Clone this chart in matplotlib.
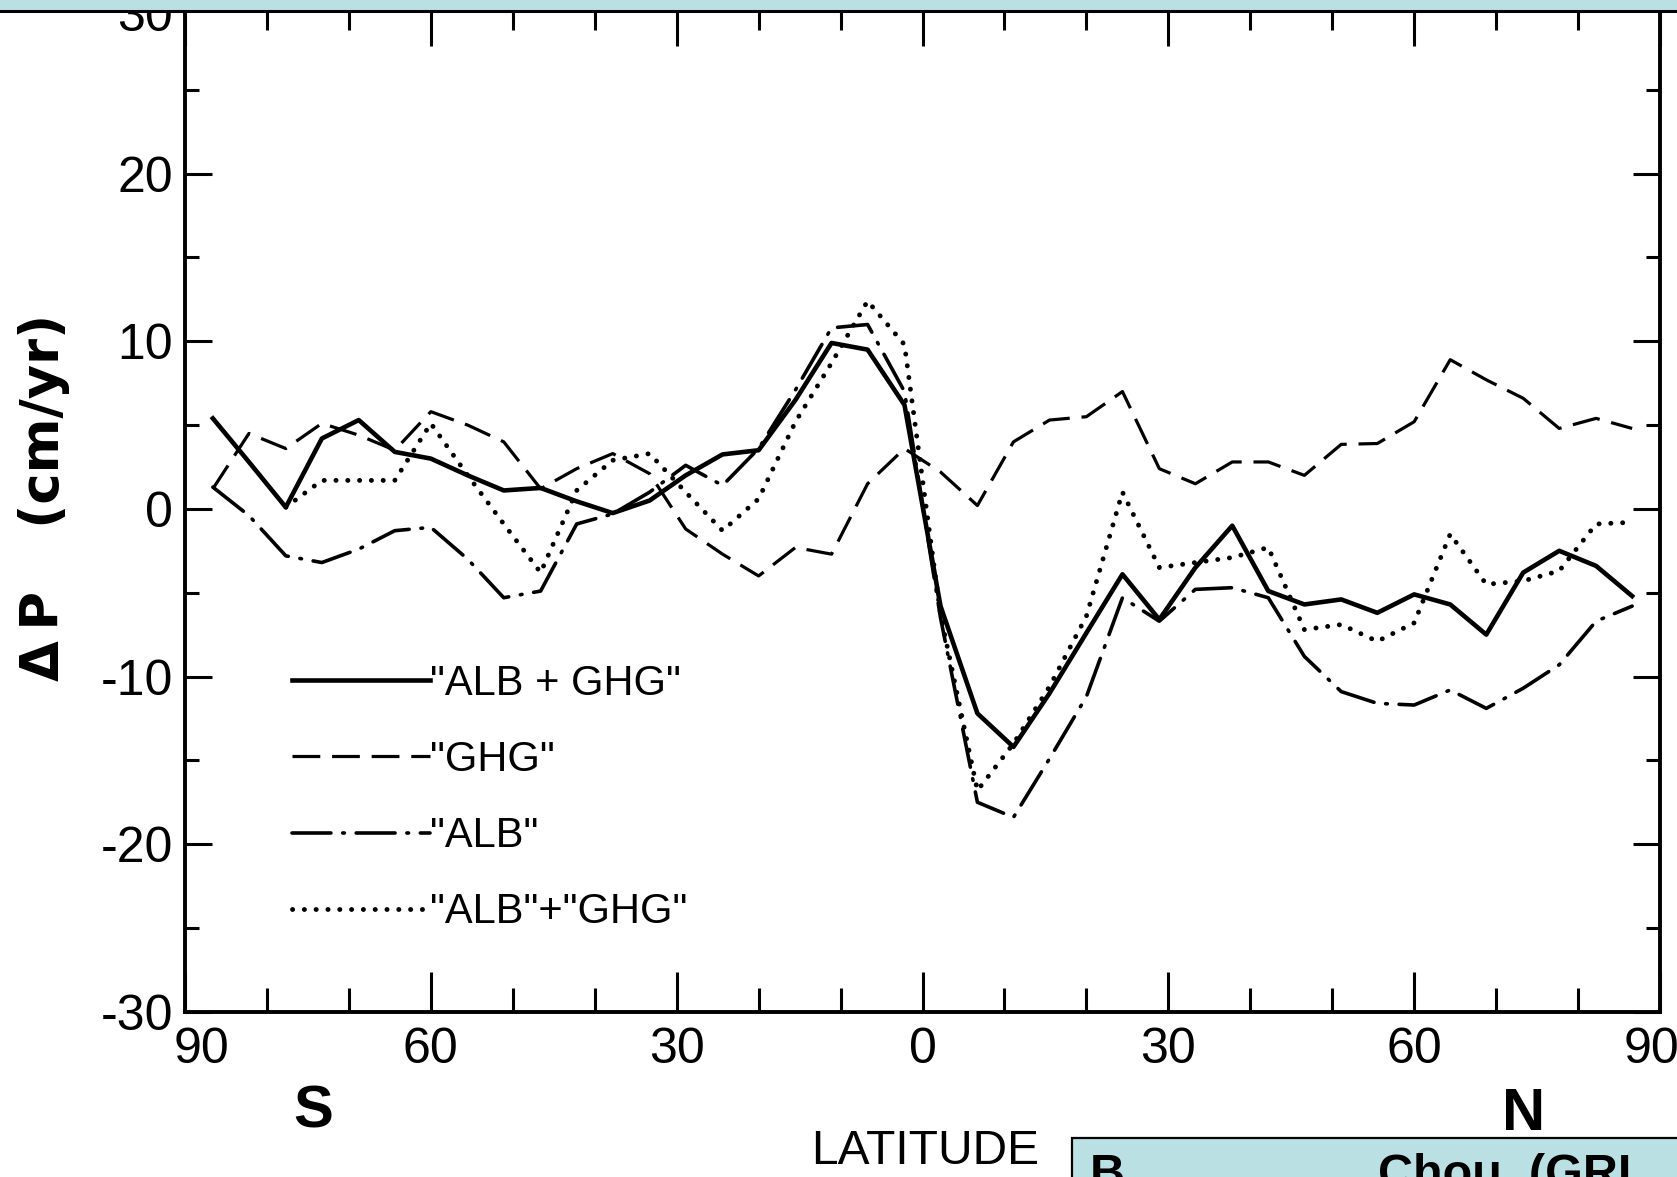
import matplotlib
matplotlib.use("Agg")
import matplotlib.pyplot as plt
import matplotlib.transforms as mtransforms
from matplotlib.patches import Rectangle
from matplotlib.ticker import MultipleLocator, FixedLocator, FixedFormatter

# ---------------- data ----------------
LAT = [-86.6, -82.2, -77.7, -73.3, -68.8, -64.4, -60.0, -55.5, -51.1, -46.6,
       -42.2, -37.8, -33.3, -28.9, -24.4, -20.0, -15.5, -11.1, -6.7, -2.2,
       2.2, 6.7, 11.1, 15.5, 20.0, 24.4, 28.9, 33.3, 37.8, 42.2,
       46.6, 51.1, 55.5, 60.0, 64.4, 68.8, 73.3, 77.7, 82.2, 86.6]

ALB_GHG = [5.4, 2.8, 0.1, 4.2, 5.3, 3.4, 3.0, 2.0, 1.1, 1.25,
           0.45, -0.25, 0.5, 2.0, 3.25, 3.5, 6.5, 9.9, 9.5, 6.2,
           -5.8, -12.2, -14.2, -11.0, -7.4, -3.9, -6.6, -3.5, -1.0, -4.9,
           -5.7, -5.4, -6.2, -5.1, -5.7, -7.5, -3.8, -2.5, -3.4, -5.2]

GHG = [1.2, 4.5, 3.6, 5.1, 4.4, 3.5, 5.8, 5.0, 4.0, 1.2,
       2.4, 3.3, 2.1, -1.2, -2.7, -4.0, -2.3, -2.7, 1.5, 3.6,
       2.2, 0.2, 4.0, 5.3, 5.5, 7.0, 2.4, 1.5, 2.8, 2.8,
       2.0, 3.85, 3.9, 5.2, 8.9, 7.7, 6.6, 4.8, 5.4, 4.8]

ALB = [1.3, -0.4, -2.8, -3.2, -2.4, -1.3, -1.1, -3.0, -5.3, -4.9,
       -0.9, -0.3, 1.0, 2.6, 1.4, 3.6, 7.1, 10.8, 11.0, 7.0,
       -6.5, -17.5, -18.4, -14.9, -11.2, -5.3, -6.7, -4.8, -4.7, -5.3,
       -8.8, -10.9, -11.6, -11.7, -10.8, -11.9, -10.7, -9.3, -6.7, -5.8]

LAT_SUM = [-77.7, -73.3, -68.8, -64.4, -60.0, -55.5, -51.1, -46.6,
           -42.2, -37.8, -33.3, -28.9, -24.4, -20.0, -15.5, -11.1, -6.7, -2.2,
           2.2, 6.7, 11.1, 15.5, 20.0, 24.4, 28.9, 33.3, 37.8, 42.2,
           46.6, 51.1, 55.5, 60.0, 64.4, 68.8, 73.3, 77.7, 82.2, 86.6]
ALB_PLUS_GHG = [0.1, 1.7, 1.7, 1.7, 5.1, 2.0, -0.9, -3.8,
                1.1, 2.9, 3.3, 1.0, -1.3, 0.6, 5.2, 8.7, 12.4, 9.8,
                -6.3, -16.8, -14.0, -10.6, -6.4, 1.0, -3.5, -3.2, -2.9, -2.3,
                -7.2, -6.9, -7.9, -6.8, -1.5, -4.5, -4.3, -3.7, -0.9, -0.8]

XTICKS = [-90, -60, -30, 0, 30, 60, 90]
XTICKLABELS = ["90", "60", "30", "0", "30", "60", "90"]
YTICKS = [-30, -20, -10, 0, 10, 20, 30]
YTICKLABELS = ["-30", "-20", "-10", "0", "10", "20", "30"]
LABELS = ['"ALB + GHG"', '"GHG"', '"ALB"', '"ALB"+"GHG"']

# ---------------- style ----------------
plt.rcParams['font.family'] = ['Liberation Sans', 'DejaVu Sans']
plt.rcParams['lines.scale_dashes'] = False

W, H = 1677, 1177
fig = plt.figure(figsize=(W / 100, H / 100), dpi=100)
fig.patch.set_facecolor('white')

ax_left, ax_right = 185, 1660
ax_top, ax_bot = 6, 1011.8
ax = fig.add_axes([ax_left / W, 1 - ax_bot / H, (ax_right - ax_left) / W, (ax_bot - ax_top) / H])

l1, = ax.plot(LAT, ALB_GHG, color='black', lw=3.3, zorder=6)
l2, = ax.plot(LAT, GHG, color='black', lw=2.3, dashes=(20, 8.5), zorder=3)
l3, = ax.plot(LAT, ALB, color='black', lw=2.6, dashes=(28, 8.5, 1.2, 8.5),
              dash_capstyle='round', zorder=4)
l4, = ax.plot(LAT_SUM, ALB_PLUS_GHG, color='black', lw=3.5, dashes=(0.1, 8.4),
              dash_capstyle='round', zorder=5)

ax.set_xlim(-90, 90)
ax.set_ylim(-30, 30)
ax.xaxis.set_major_locator(FixedLocator(XTICKS))
ax.xaxis.set_major_formatter(FixedFormatter(XTICKLABELS))
ax.xaxis.set_minor_locator(MultipleLocator(10))
ax.yaxis.set_major_locator(FixedLocator(YTICKS))
ax.yaxis.set_major_formatter(FixedFormatter(YTICKLABELS))
ax.yaxis.set_minor_locator(MultipleLocator(5))
ax.tick_params(axis='both', which='both', direction='in', top=True, right=True,
               width=2.2, color='black')
ax.tick_params(axis='x', which='major', length=29, pad=11, labelsize=36)
ax.tick_params(axis='x', which='minor', length=17)
ax.tick_params(axis='y', which='major', length=19.5, pad=8.5, labelsize=36)
ax.tick_params(axis='y', which='minor', length=10)
for s in ax.spines.values():
    s.set_linewidth(2.8)

# the end labels "90" sit slightly inside the frame; the top "30" sits a bit lower
fig.canvas.draw()
xlabels = ax.get_xticklabels()
xlabels[0].set_transform(xlabels[0].get_transform() +
                         mtransforms.ScaledTranslation(17 / 100, 0, fig.dpi_scale_trans))
xlabels[-1].set_transform(xlabels[-1].get_transform() +
                          mtransforms.ScaledTranslation(-9 / 100, 0, fig.dpi_scale_trans))
ylabels = ax.get_yticklabels()
ylabels[-1].set_transform(ylabels[-1].get_transform() +
                          mtransforms.ScaledTranslation(0, -7 / 100, fig.dpi_scale_trans))

leg = ax.legend([l1, l2, l3, l4], LABELS, loc='center left',
                bbox_to_anchor=((292 - ax_left) / (ax_right - ax_left),
                                (ax_bot - 798) / (ax_bot - ax_top)),
                frameon=False, fontsize=30, handlelength=3.3, handletextpad=0.0,
                labelspacing=0.87, borderpad=0, borderaxespad=0)

# y-axis label
fig.text(44 / W, 1 - 497 / H, "\u0394\u2009P\u2003\u2009(cm/yr)", rotation=90,
         fontsize=38, fontweight='bold', family=['DejaVu Sans'],
         ha='center', va='center')

# S / N / LATITUDE
fig.text(313 / W, 1 - 1112 / H, 'S', fontsize=43, fontweight='bold', ha='center', va='center')
fig.text(1524 / W, 1 - 1115 / H, 'N', fontsize=43, fontweight='bold', ha='center', va='center')
fig.text(925 / W, 1 - 1152 / H, 'LATITUDE', fontsize=34.5, ha='center', va='center')

# top header bar
top_bar = Rectangle((-0.01, 1 - 10.5 / H), 1.02, 0.05, transform=fig.transFigure,
                    facecolor='#BBE0E3', edgecolor='black', lw=2.2, zorder=20)
fig.patches.append(top_bar)

# bottom-right caption box
box = Rectangle((1072 / W, -0.05), 0.5, 0.05 + (H - 1138) / H, transform=fig.transFigure,
                facecolor='#BBE0E3', edgecolor='black', lw=1.6, zorder=20)
fig.patches.append(box)
fig.text(1090 / W, (H - 1188) / H, 'B', fontsize=35, fontweight='bold',
         family=['Liberation Sans', 'DejaVu Sans'], ha='left', va='baseline', zorder=21)
fig.text(1378 / W, (H - 1188) / H, 'Chou  (GRL', fontsize=35, fontweight='bold',
         family=['Liberation Sans', 'DejaVu Sans'], ha='left', va='baseline', zorder=21)

fig.savefig('out.png', dpi=100)
